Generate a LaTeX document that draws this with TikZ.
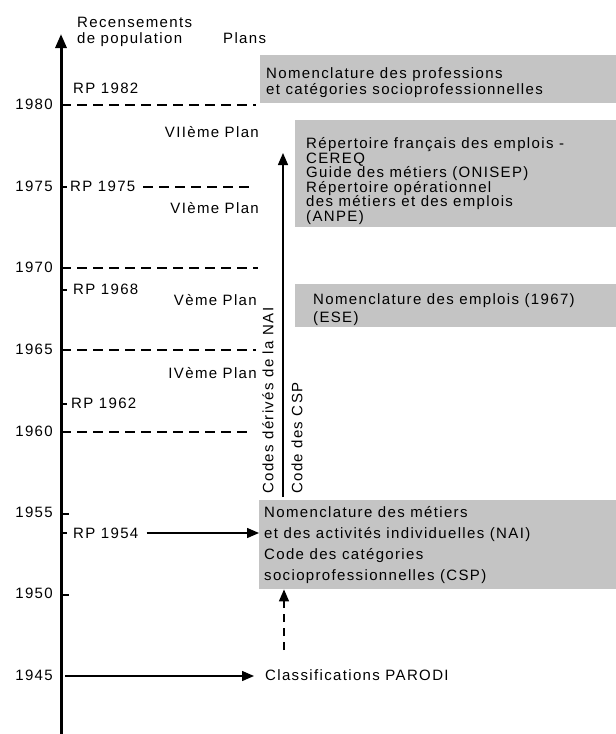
\documentclass[tikz,border=0pt]{standalone}
\usepackage{fontspec}
\setmainfont{Liberation Sans}[LetterSpace=9]
\usetikzlibrary{arrows.meta}
\begin{document}
\begin{tikzpicture}[x=1pt,y=-1pt,
  font=\fontsize{15}{16}\selectfont,
  txt/.style={inner sep=0pt, anchor=base west, align=left},
  yr/.style={inner sep=0pt, anchor=base east},
  plan/.style={inner sep=0pt, anchor=base east},
  dline/.style={line width=1.4pt, dash pattern=on 10pt off 6pt},
  tick/.style={line width=1.2pt},
  box/.style={fill=black!23, draw=none, inner sep=0pt, anchor=north west},
  arr/.style={line width=1.4pt, -{Triangle[length=12pt,width=10pt]}},
  darr/.style={line width=1.4pt, dash pattern=on 8pt off 6pt, -{Triangle[length=12pt,width=10pt]}}]
\useasboundingbox (0,0) rectangle (616,734);

% gray boxes
\node[box, minimum width=356pt, minimum height=48pt] (b1) at (260,55) {};
\node[box, minimum width=321pt, minimum height=107pt] (b2) at (295,120) {};
\node[box, minimum width=321pt, minimum height=43pt] (b3) at (295,284) {};
\node[box, minimum width=357pt, minimum height=89pt] (b4) at (259,500) {};

% axis
\coordinate (axb) at (61,734);
\coordinate (axt) at (61,34);
\draw[line width=3pt, -{Triangle[length=14pt,width=11pt]}] (axb) -- (axt);

% header
\node[txt] (h1) at (77,27) {Recensements};
\node[txt] (h2) at (77,43) {de population};
\node[txt] (h3) at (223,43) {Plans};

% years
\node[yr] (y80) at (53,109) {1980};
\node[yr] (y75) at (53,191) {1975};
\node[yr] (y70) at (53,272) {1970};
\node[yr] (y65) at (53,354) {1965};
\node[yr] (y60) at (53,436) {1960};
\node[yr] (y55) at (53,517) {1955};
\node[yr] (y50) at (53,598) {1950};
\node[yr] (y45) at (53,680) {1945};

% dashed year lines
\coordinate (d80a) at (61,105); \coordinate (d80b) at (256,105);
\coordinate (d70a) at (61,268); \coordinate (d70b) at (258,268);
\coordinate (d65a) at (61,350); \coordinate (d65b) at (256,350);
\coordinate (d60a) at (61,432); \coordinate (d60b) at (252,432);
\draw[dline] (d80a) -- (d80b);
\draw[dline] (d70a) -- (d70b);
\draw[dline] (d65a) -- (d65b);
\draw[dline] (d60a) -- (d60b);

% year ticks
\foreach \yy/\nm in {514/t55,595/t50}{
  \coordinate (\nm a) at (61,\yy); \coordinate (\nm b) at (69,\yy);
  \draw[tick] (\nm a) -- (\nm b);
}

% RP labels
\node[txt] (rp82) at (73,93) {RP 1982};
\node[txt] (rp75) at (70,191) {RP 1975};
\node[txt] (rp68) at (73,294) {RP 1968};
\node[txt] (rp62) at (71,408) {RP 1962};
\node[txt] (rp54) at (73,538) {RP 1954};
\foreach \yy/\nm in {187/r75,290/r68,404/r62,533/r54}{
  \coordinate (\nm a) at (61,\yy); \coordinate (\nm b) at (67,\yy);
  \draw[tick] (\nm a) -- (\nm b);
}
\coordinate (d75a) at (143,187);
\coordinate (d75b) at (253,187);
\draw[dline] (d75a) -- (d75b);

% Plans
\node[plan] (p7) at (259,137) {VIIème Plan};
\node[plan] (p6) at (259,213) {VIème Plan};
\node[plan] (p5) at (257,305) {Vème Plan};
\node[plan] (p4) at (257,378) {IVème Plan};

% box texts (base = last line)
\node[txt] (t1) at (266,94) {Nomenclature des professions\\et catégories socioprofessionnelles};
\node[txt, font=\fontsize{15}{14.5}\selectfont] (t2) at (306,221) {Répertoire français des emplois -\\CEREQ\\Guide des métiers (ONISEP)\\Répertoire opérationnel\\des métiers et des emplois\\(ANPE)};
\node[txt, font=\fontsize{15}{18}\selectfont] (t3) at (313,322) {Nomenclature des emplois (1967)\\(ESE)};
\node[txt, font=\fontsize{15}{21}\selectfont] (t4) at (264,580) {Nomenclature des métiers\\et des activités individuelles (NAI)\\Code des catégories\\socioprofessionnelles (CSP)};

% vertical arrow and rotated labels
\coordinate (va) at (283,497);
\coordinate (vb) at (283,153);
\draw[arr] (va) -- (vb);
\node[inner sep=0pt, anchor=west, rotate=90] (cn) at (268,494) {Codes dérivés de la NAI};
\node[inner sep=0pt, anchor=west, rotate=90] (cc) at (297,494) {Code des CSP};

% RP 1954 arrow
\coordinate (a54) at (rp54.east |- 0,533);
\draw[arr] ([xshift=8pt]a54) -- (b4.west |- a54);

% PARODI
\node[inner sep=0pt, anchor=base west] (par) at (265,680) {Classifications PARODI};
\coordinate (a45) at (65,676);
\coordinate (p45) at (254,676);
\draw[arr] (a45) -- (p45);
\coordinate (dpa) at (284,650);
\draw[darr] (dpa) -- (b4.south -| dpa);
\end{tikzpicture}
\end{document}
